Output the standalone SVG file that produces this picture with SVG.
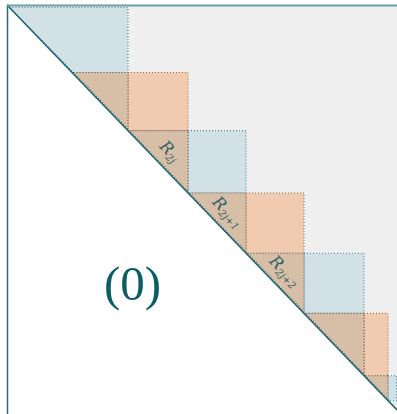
<svg xmlns="http://www.w3.org/2000/svg" width="397" height="414" viewBox="0 0 397 414">
<style>
.bg{fill:#efefef}
.blue{fill:#d1e1e5;stroke:#3f8290;stroke-width:1.1;stroke-dasharray:1 2}
.orange{fill:#f0cbb0;stroke:#9a6a4a;stroke-width:1.1;stroke-dasharray:1 2}
.tri{fill:#d7bea7;stroke:#5f5550;stroke-width:1.1;stroke-dasharray:1 2}
.lbl{font-family:"DejaVu Serif","Liberation Serif",serif;font-style:italic;font-size:16px;fill:#2d5f63;text-anchor:middle}
.sub{font-size:10px}
</style>
<polygon class="bg" points="8,6 397,6 397,410"/>
<g id="row0"><polygon class="blue" points="9.5,7.5 128,7.5 128,72.5 73.5,72.5"/></g>
<g id="row1">
<rect class="orange" x="128" y="72.5" width="60" height="58.1"/>
<polygon class="tri" points="73.5,72.5 128,72.5 128,129"/>
</g>
<g id="row2">
<rect class="blue" x="188" y="130.6" width="58" height="62.4"/>
<polygon class="tri" points="129.5,130.6 188,130.6 188,191.4"/>
<text class="lbl" transform="translate(169,152) rotate(46)" y="4">R<tspan class="sub" dy="3">2j</tspan></text>
</g>
<g id="row3">
<rect class="orange" x="246" y="193" width="58" height="60.2"/>
<polygon class="tri" points="189.5,193 246,193 246,251.6"/>
<text class="lbl" transform="translate(227,213) rotate(46)" y="4">R<tspan class="sub" dy="3">2j+1</tspan></text>
</g>
<g id="row4">
<rect class="blue" x="304" y="253.2" width="60" height="60.2"/>
<polygon class="tri" points="247.5,253.2 304,253.2 304,311.8"/>
<text class="lbl" transform="translate(284,272) rotate(46)" y="4">R<tspan class="sub" dy="3">2j+2</tspan></text>
</g>
<g id="row5">
<rect class="orange" x="364" y="313.4" width="24" height="62.3"/>
<polygon class="tri" points="305.5,313.4 364,313.4 364,374.1"/>
</g>
<g id="row6">
<rect class="blue" x="388" y="375.7" width="8.5" height="25"/>
<polygon class="tri" points="365.5,375.7 388,375.7 388,399.1"/>
</g>
<g id="connectors">
<line x1="8" y1="6" x2="397" y2="410" stroke="#1f6470" stroke-width="1.6"/>
<line x1="7.5" y1="4.5" x2="7.5" y2="414" stroke="#2b6b74" stroke-width="1.5"/>
<line x1="7" y1="5.5" x2="397" y2="5.5" stroke="#6d9ea5" stroke-width="2.2"/>
</g>
<g id="label0"><text x="132.5" y="300" font-family="Liberation Serif, serif" font-size="49" fill="#0b5d66" text-anchor="middle">(0)</text></g>
</svg>
